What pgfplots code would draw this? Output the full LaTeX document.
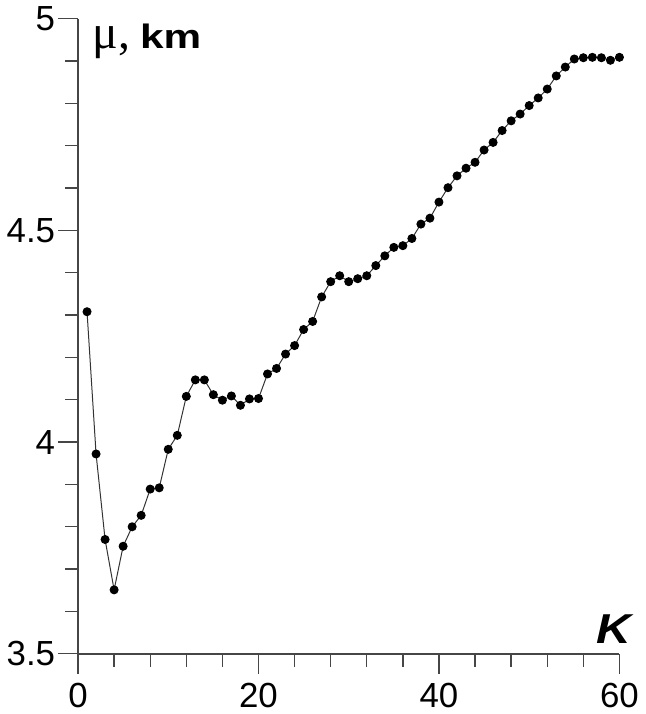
\documentclass[border=0pt]{standalone}
\usepackage{fontspec}
\setmainfont{Liberation Sans}
\newfontfamily\greek{Liberation Serif}
\usepackage{pgfplots}
\pgfplotsset{compat=1.18}
\definecolor{axgray}{RGB}{70,70,70}

\begin{document}
\begin{tikzpicture}
\begin{axis}[scale only axis,width=272pt,height=319pt,
  xmin=0,xmax=60,ymin=3.5,ymax=5,
  axis lines*=left,axis line style={draw=axgray,line width=1pt},
  xtick={0,20,40,60},ytick={3.5,4,4.5,5},
  yticklabels={3.5,4,4.5,5},
  minor x tick num=4,minor y tick num=4,
  tick align=outside,
  major tick length=10pt,minor tick length=6.5pt,
  every tick/.style={draw=axgray,line width=0.7pt},
  tick label style={font=\fontsize{17.5}{20}\selectfont},
  yticklabel style={xshift=2pt},
  xticklabel style={yshift=-1pt},
  /pgf/number format/assume math mode=true,
  clip=false]
\addplot[black!80,line width=0.5pt,mark=*,mark size=2pt,mark options={fill=black,draw=black}]
  coordinates {
  (1,4.308)(2,3.972)(3,3.770)(4,3.651)(5,3.754)(6,3.800)(7,3.827)(8,3.889)(9,3.892)(10,3.983)
  (11,4.016)(12,4.108)(13,4.147)(14,4.147)(15,4.112)(16,4.099)(17,4.109)(18,4.087)(19,4.102)(20,4.103)
  (21,4.161)(22,4.174)(23,4.208)(24,4.228)(25,4.266)(26,4.285)(27,4.343)(28,4.379)(29,4.393)(30,4.379)
  (31,4.386)(32,4.393)(33,4.417)(34,4.440)(35,4.460)(36,4.464)(37,4.481)(38,4.515)(39,4.529)(40,4.567)
  (41,4.601)(42,4.629)(43,4.647)(44,4.661)(45,4.690)(46,4.708)(47,4.736)(48,4.759)(49,4.775)(50,4.795)
  (51,4.813)(52,4.834)(53,4.865)(54,4.886)(55,4.905)(56,4.908)(57,4.909)(58,4.908)(59,4.902)(60,4.909)};
\node[anchor=base west,inner sep=0pt,font=\fontsize{24}{26}\selectfont] at (axis cs:1.6,4.9295) {\greek μ,};
\node[anchor=base west,inner sep=0pt,font=\fontsize{17}{19}\selectfont\bfseries] at (axis cs:6.85,4.9295) {\scalebox{1.25}[1]{km}};
\node[anchor=south,inner sep=0pt,font=\fontsize{21}{23}\selectfont\bfseries\itshape] at (axis cs:59.4,3.5235) {\scalebox{1.15}[1]{K}};
\end{axis}
\end{tikzpicture}
\end{document}
